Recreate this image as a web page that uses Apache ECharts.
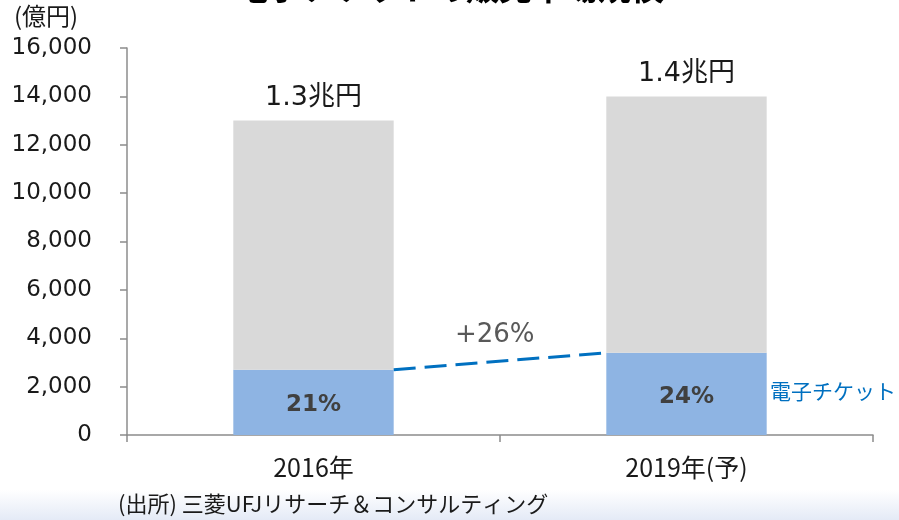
<!DOCTYPE html>
<html>
<head>
<meta charset="utf-8">
<script src="https://cdn.jsdelivr.net/npm/echarts@6/dist/echarts.min.js"></script>
<style>
  html, body { margin: 0; padding: 0; background: #fff; }
  #chart { width: 899px; height: 520px; }
</style>
</head>
<body>
<div id="chart"></div>
<script>
// データ（億円）
const categories = ['2016年', '2019年(予)']
const totalValues = [13000, 14000]
const eticketValues = [2700, 3400]
const yTicks = [0, 2000, 4000, 6000, 8000, 10000, 12000, 14000, 16000]

const BAR_RATIO = 0.43
const jpFont = '"Noto Sans CJK JP", sans-serif'
const numFont = '"DejaVu Sans", "Noto Sans CJK JP", sans-serif'

const restValues = totalValues.map((v, i) => v - eticketValues[i])
const growth = Math.round((eticketValues[1] / eticketValues[0] - 1) * 100)

const chart = echarts.init(document.getElementById('chart'))

const option = {
  animation: false,
  grid: { left: 127, right: 26, top: 48, bottom: 85 },
  xAxis: [
    {
      type: 'category',
      data: categories,
      axisLine: { lineStyle: { color: '#8c8c8c', width: 1.5 } },
      axisTick: { show: true, length: 7, lineStyle: { color: '#8c8c8c', width: 1.5 } },
      axisLabel: { color: '#1a1a1a', fontSize: 25, fontFamily: jpFont, margin: 20 },
    },
    {
      // 破線用の補助軸
      type: 'value',
      min: -0.5,
      max: categories.length - 0.5,
      show: false,
    },
  ],
  yAxis: {
    type: 'value',
    min: yTicks[0],
    max: yTicks[yTicks.length - 1],
    interval: yTicks[1] - yTicks[0],
    axisLine: { show: true, onZero: false, lineStyle: { color: '#8c8c8c', width: 1.5 } },
    axisTick: { show: true, length: 7, lineStyle: { color: '#8c8c8c', width: 1.5 } },
    splitLine: { show: false },
    axisLabel: {
      color: '#1a1a1a',
      fontSize: 23,
      fontFamily: numFont,
      margin: 35,
      formatter: (v) => v.toLocaleString('en-US'),
    },
  },
  series: [
    {
      name: '電子チケット',
      type: 'bar',
      stack: 'total',
      barWidth: BAR_RATIO * 100 + '%',
      data: eticketValues,
      itemStyle: { color: '#8eb4e3' },
      label: {
        show: true,
        position: 'inside',
        offset: [0, 3],
        color: '#404040',
        fontSize: 23,
        fontWeight: 'bold',
        fontFamily: numFont,
        formatter: (p) => Math.round((p.value / totalValues[p.dataIndex]) * 100) + '%',
      },
    },
    {
      name: 'その他',
      type: 'bar',
      stack: 'total',
      barWidth: BAR_RATIO * 100 + '%',
      data: restValues,
      itemStyle: { color: '#d9d9d9' },
      label: {
        show: true,
        position: 'top',
        distance: 9,
        color: '#1a1a1a',
        fontSize: 27,
        fontFamily: numFont,
        formatter: (p) => (totalValues[p.dataIndex] / 10000).toFixed(1) + '兆円',
      },
    },
    {
      type: 'line',
      xAxisIndex: 1,
      data: [
        [BAR_RATIO / 2, eticketValues[0]],
        [1 - BAR_RATIO / 2, eticketValues[1]],
      ],
      symbol: 'none',
      lineStyle: { color: '#0070c0', width: 3, type: [22, 9] },
      z: 5,
    },
  ],
  graphic: [
    {
      type: 'rect',
      left: 0,
      top: 490,
      shape: { width: 899, height: 30 },
      style: {
        fill: new echarts.graphic.LinearGradient(0, 0, 0, 1, [
          { offset: 0, color: '#ffffff' },
          { offset: 1, color: '#e4eaf6' },
        ]),
      },
      z: -10,
    },
    {
      type: 'text',
      left: 'center',
      top: -29,
      style: {
        text: '電子チケットの販売市場規模',
        fontSize: 33,
        fontWeight: 'bold',
        fontFamily: jpFont,
        fill: '#000',
      },
    },
    {
      type: 'text',
      left: 14,
      top: 4,
      style: { text: '(億円)', fontSize: 24, fontFamily: jpFont, fill: '#1a1a1a' },
    },
    {
      type: 'text',
      left: 455,
      top: 322,
      style: { text: '+' + growth + '%', fontSize: 26, fontFamily: numFont, fill: '#595959' },
    },
    {
      type: 'text',
      left: 770,
      top: 381,
      style: { text: '電子チケット', fontSize: 21, fontFamily: jpFont, fill: '#0070c0' },
    },
    {
      type: 'text',
      left: 118,
      top: 493,
      style: {
        text: '(出所) 三菱UFJリサーチ＆コンサルティング',
        fontSize: 22,
        fontFamily: jpFont,
        fill: '#1a1a1a',
      },
    },
  ],
}

chart.setOption(option)
</script>
</body>
</html>
